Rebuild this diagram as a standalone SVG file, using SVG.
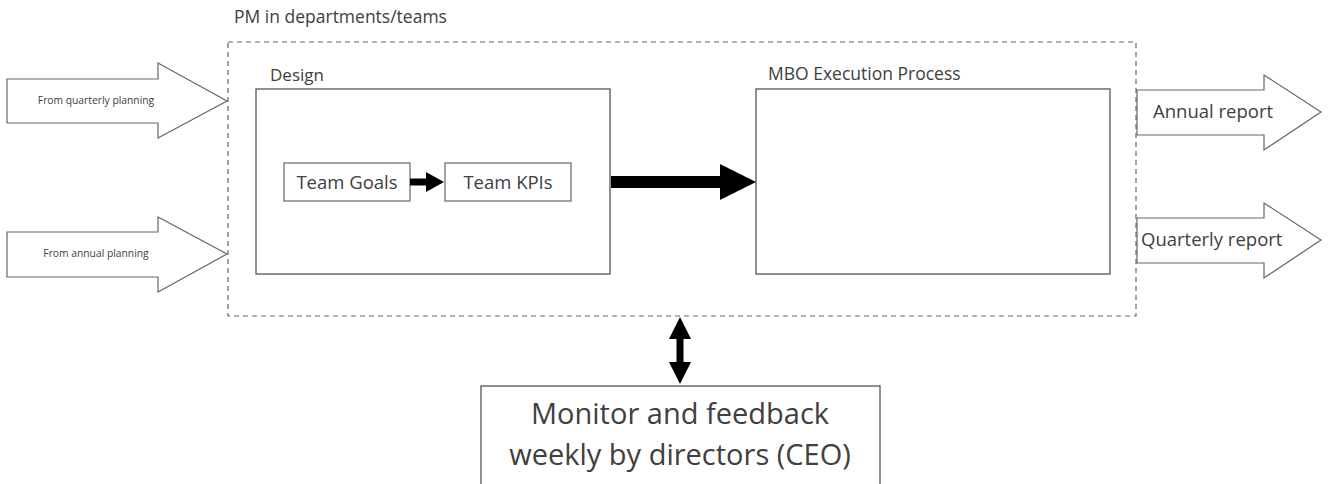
<svg xmlns="http://www.w3.org/2000/svg" width="1328" height="484" viewBox="0 0 1328 484">
  <style>
    text { font-family: "Open Sans", "Liberation Sans", sans-serif; fill: #404040; }
    .box { fill: #ffffff; stroke: #555555; stroke-width: 1.3; }
    .block { fill: #ffffff; stroke: #666666; stroke-width: 1.2; }
    .frame { fill: none; stroke: #666666; stroke-width: 1.2; stroke-dasharray: 5 4; }
  </style>
  <rect width="1328" height="484" fill="#ffffff"/>

  <!-- outer container -->
  <g id="container">
    <rect class="frame" x="228" y="42" width="908" height="274"/>
    <text x="234" y="23" font-size="17.5">PM in departments/teams</text>
  </g>

  <!-- inputs -->
  <g id="from-quarterly">
    <polygon class="block" points="7,79 158,79 158,63 227,101 158,138 158,123 7,123"/>
    <text x="96" y="104" font-size="10.3" text-anchor="middle" fill="#555">From quarterly planning</text>
  </g>
  <g id="from-annual">
    <polygon class="block" points="7,232 158,232 158,217 227,254 158,292 158,277 7,277"/>
    <text x="96" y="257" font-size="10.3" text-anchor="middle" fill="#555">From annual planning</text>
  </g>

  <!-- design -->
  <g id="design">
    <rect class="box" x="256" y="89" width="354" height="185"/>
    <text x="270" y="81" font-size="17">Design</text>
  </g>
  <g id="team-goals">
    <rect class="block" x="284" y="163" width="126" height="38"/>
    <text x="347" y="189" font-size="18.5" text-anchor="middle">Team Goals</text>
  </g>
  <g id="team-kpis">
    <rect class="block" x="445" y="163" width="126" height="38"/>
    <text x="508" y="189" font-size="18.5" text-anchor="middle">Team KPIs</text>
  </g>

  <!-- execution -->
  <g id="mbo-execution">
    <rect class="box" x="756" y="89" width="354" height="185"/>
    <text x="768" y="80" font-size="17.5">MBO Execution Process</text>
  </g>

  <!-- outputs -->
  <g id="annual-report">
    <polygon class="block" points="1137,90 1264,90 1264,75 1321,112 1264,150 1264,135 1137,135"/>
    <text x="1153" y="118" font-size="18.5">Annual report</text>
  </g>
  <g id="quarterly-report">
    <polygon class="block" points="1137,218 1264,218 1264,203 1321,240 1264,278 1264,263 1137,263"/>
    <text x="1141" y="246" font-size="18.5">Quarterly report</text>
  </g>

  <!-- monitoring -->
  <g id="monitor">
    <rect class="box" x="481" y="386" width="399" height="110"/>
    <text x="680" y="424" font-size="29" text-anchor="middle">Monitor and feedback</text>
    <text x="680" y="465" font-size="29" text-anchor="middle">weekly by directors (CEO)</text>
  </g>

  <!-- connectors -->
  <g id="connectors" fill="#000000">
    <polygon points="410,178.5 426,178.5 426,172 444,182 426,192 426,185.5 410,185.5"/>
    <polygon points="611,176 720,176 720,164 756,182 720,200 720,188 611,188"/>
    <polygon points="680,317 691,339 683.5,339 683.5,362 691,362 680,384 669,362 676.5,362 676.5,339 669,339"/>
  </g>
</svg>
